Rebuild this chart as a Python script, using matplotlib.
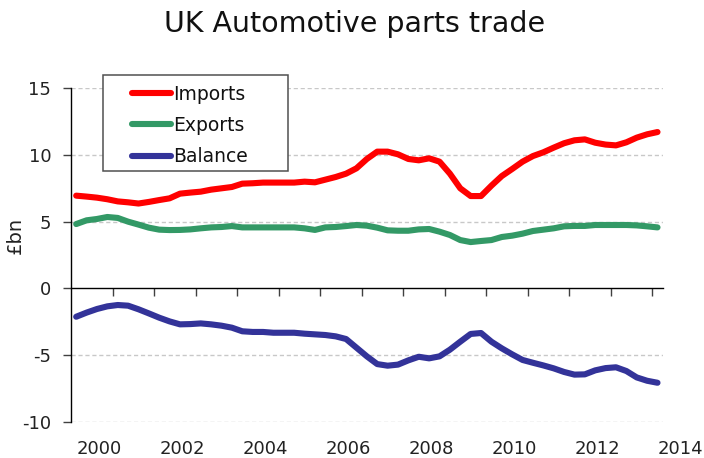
import numpy as np
import matplotlib
matplotlib.use("Agg")
import matplotlib.pyplot as plt
from matplotlib.lines import Line2D
from matplotlib.patches import Rectangle

# ---- data (quarterly, £bn) ----
quarters = np.arange(2000.0, 2014.01, 0.25)
imports = [6.95, 6.88, 6.8, 6.68, 6.52, 6.45, 6.36, 6.48, 6.62, 6.75,
           7.1, 7.18, 7.25, 7.4, 7.5, 7.6, 7.85, 7.88, 7.93, 7.93,
           7.93, 7.93, 8.0, 7.95, 8.15, 8.35, 8.6, 9.0, 9.7, 10.25,
           10.25, 10.05, 9.7, 9.6, 9.75, 9.5, 8.6, 7.5, 6.92, 6.92,
           7.7, 8.42, 8.95, 9.5, 9.92, 10.2, 10.55, 10.88, 11.1, 11.17,
           10.92, 10.78, 10.72, 10.95, 11.3, 11.55, 11.72]
exports = [4.82, 5.1, 5.2, 5.35, 5.28, 5.0, 4.78, 4.55, 4.4, 4.37,
           4.38, 4.42, 4.5, 4.57, 4.6, 4.67, 4.57, 4.57, 4.57, 4.57,
           4.57, 4.57, 4.5, 4.38, 4.57, 4.6, 4.67, 4.75, 4.7, 4.55,
           4.35, 4.32, 4.32, 4.42, 4.45, 4.25, 4.0, 3.62, 3.47, 3.55,
           3.62, 3.85, 3.95, 4.1, 4.3, 4.4, 4.5, 4.65, 4.68, 4.68,
           4.75, 4.75, 4.75, 4.75, 4.72, 4.65, 4.57]
balance = [-2.13, -1.82, -1.55, -1.35, -1.25, -1.3, -1.57, -1.88, -2.2, -2.48,
           -2.7, -2.68, -2.63, -2.7, -2.8, -2.95, -3.22, -3.27, -3.27, -3.33,
           -3.33, -3.33, -3.4, -3.45, -3.5, -3.6, -3.8, -4.45, -5.1, -5.68,
           -5.8, -5.72, -5.4, -5.13, -5.25, -5.1, -4.6, -4.0, -3.42, -3.35,
           -4.0, -4.5, -4.95, -5.37, -5.58, -5.78, -6.0, -6.27, -6.47, -6.45,
           -6.15, -5.98, -5.92, -6.2, -6.68, -6.93, -7.08]
series_names = ["Imports", "Exports", "Balance"]
series_colors = ["#FF0000", "#339966", "#333399"]
year_labels = [2000, 2002, 2004, 2006, 2008, 2010, 2012, 2014]
y_ticks = [-10, -5, 0, 5, 10, 15]

plt.rcParams['font.family'] = ['DejaVu Sans']

W, H = 704, 458
fig = plt.figure(figsize=(W / 100, H / 100), dpi=100)
ax = fig.add_axes([71 / W, 1 - 421.7 / H, 591.7 / W, 333.4 / H])

for vals, name, col in zip([imports, exports, balance], series_names, series_colors):
    ax.plot(quarters, vals, color=col, lw=4.4, solid_capstyle='round',
            solid_joinstyle='round', label=name, zorder=3)

ax.set_xlim(1999.875, 2014.125)
ax.set_ylim(-10, 15)

# y axis
ax.set_yticks(y_ticks)
ax.set_yticklabels([str(v) for v in y_ticks])
ax.tick_params(axis='y', direction='out', length=6, width=1, color='#404040',
               pad=8.3, labelsize=13, labelcolor='#222222')
for s in ['top', 'right', 'bottom']:
    ax.spines[s].set_visible(False)
ax.spines['left'].set_color('#000000')
ax.spines['left'].set_linewidth(1)

# gridlines
for v in y_ticks:
    if v != 0:
        ax.axhline(v, color='#c8c8c8', lw=1, ls=(0, (3, 2)), zorder=1)

# x labels at bottom (no tick marks)
ax.set_xticks(year_labels)
ax.set_xticklabels([str(y) for y in year_labels], ha='left')
ax.tick_params(axis='x', length=0, pad=13, labelsize=13, labelcolor='#222222')

# zero axis line with tick marks
sec = ax.secondary_xaxis(10 / 25)
sec.set_xticks(np.arange(2000.875, 2014.0, 1.0))
sec.set_xticklabels([])
sec.tick_params(axis='x', direction='out', length=6, width=1, color='#404040')
sec.spines['bottom'].set_color('#000000')
sec.spines['bottom'].set_linewidth(1)

ax.set_ylabel('£bn', fontsize=14, color='#222222')
ax.yaxis.set_label_coords(-0.078, 0.56)

fig.suptitle('UK Automotive parts trade', fontsize=20.5, color='#111111',
             x=0.503, y=1 - 23.5 / H, va='center')

# legend box
rect = Rectangle((103 / W, 1 - 171 / H), 185 / W, 96 / H,
                 transform=fig.transFigure, facecolor='white',
                 edgecolor='#505050', lw=1.1, zorder=10)
fig.add_artist(rect)
handles = [Line2D([], [], color=c, lw=4.4, solid_capstyle='round') for c in series_colors]
leg = fig.legend(handles, series_names, loc='upper left',
                 bbox_to_anchor=(131.5 / W, 1 - 84.5 / H), frameon=False,
                 fontsize=13.5, handlelength=2.1, handletextpad=0.1,
                 labelspacing=0.665, borderpad=0, borderaxespad=0)
leg.set_zorder(11)
for t in leg.get_texts():
    t.set_color('#111111')

fig.savefig('out.png', dpi=100)
